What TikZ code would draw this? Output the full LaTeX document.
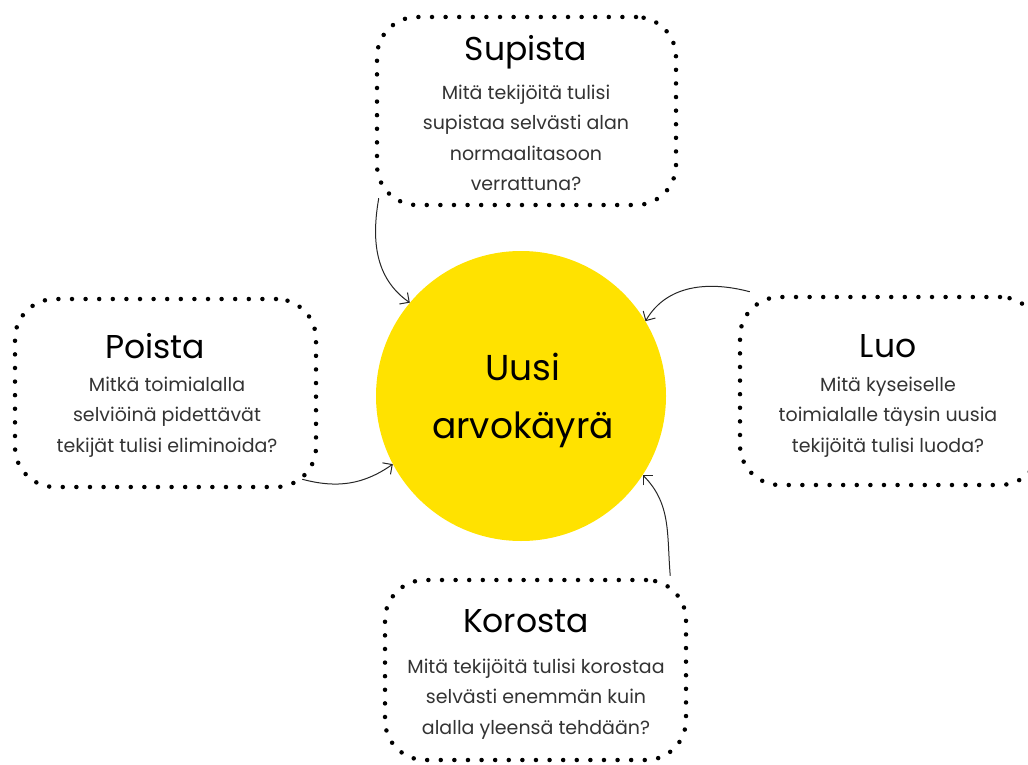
\documentclass[tikz,border=0pt]{standalone}
\usepackage{fontspec}
\setmainfont{Poppins}
\usetikzlibrary{arrows.meta, calc, positioning}
\definecolor{valyellow}{rgb}{1, 0.886, 0}
\definecolor{valgrey}{rgb}{0.2, 0.2, 0.2}

\tikzset{
    dotbox/.style={draw, rectangle, rounded corners=40pt, line width=4.5pt,
        line cap=round, dash pattern=on 0pt off 13.6pt},
    boxtitle/.style={font=\fontsize{33}{38}\selectfont, text=black},
    boxtext/.style={align=center, font=\fontsize{19}{30.5}\selectfont, text=valgrey},
    link/.style={-{Straight Barb[length=7pt, width=14pt]}, line width=1pt, black!85}
}

\begin{document}
\begin{tikzpicture}[x=1pt, y=-1pt]
    \clip (0, 0) rectangle (1028, 765);
    \useasboundingbox (0, 0) rectangle (1028, 765);

    \node[circle, fill=valyellow, minimum size=290pt, inner sep=0pt] (Uusi) at (521, 396) {};
    \node[align=center, font=\fontsize{36}{58}\selectfont] (UusiT) at (523, 400) {Uusi\\arvokäyrä};

    \node[dotbox, minimum width=299pt, minimum height=188pt] (Sup) at (526.5, 111) {};
    \node[dotbox, minimum width=301pt, minimum height=188pt] (Poi) at (165.5, 393) {};
    \node[dotbox, minimum width=300pt, minimum height=188pt] (Luo) at (890, 391) {};
    \node[dotbox, minimum width=301pt, minimum height=180pt] (Kor) at (535.5, 670) {};

    \node[boxtitle] (SupT) at (526, 52) {Supista};
    \node[boxtitle] (PoiT) at (155, 346) {Poista};
    \node[boxtitle] (LuoT) at (888, 346) {Luo};
    \node[boxtitle] (KorT) at (526, 621) {Korosta};

    \node[boxtext] (SupB) at (526, 138) {Mitä tekijöitä tulisi\\supistaa selvästi alan\\normaalitasoon\\verrattuna?};
    \node[boxtext] (PoiB) at (167, 417) {Mitkä toimialalla\\selviöinä pidettävät\\tekijät tulisi eliminoida?};
    \node[boxtext] (LuoB) at (888, 417) {Mitä kyseiselle\\toimialalle täysin uusia\\tekijöitä tulisi luoda?};
    \node[boxtext] (KorB) at (536, 699) {Mitä tekijöitä tulisi korostaa\\selvästi enemmän kuin\\alalla yleensä tehdään?};

    \draw[link] ($(Sup.south west)+(4, -9)$) to[out=-100, in=145] (Uusi.140);
    \draw[link] ($(Luo.north west)+(12, -3)$) to[out=165, in=60] (Uusi.31);
    \draw[link] ($(Poi.south east)+(-16, -10)$) to[out=-15, in=215] (Uusi.208);
    \draw[link] ($(Kor.north east)+(-18, -2)$) to[out=95, in=-45] (Uusi.-33);
\end{tikzpicture}
\end{document}
